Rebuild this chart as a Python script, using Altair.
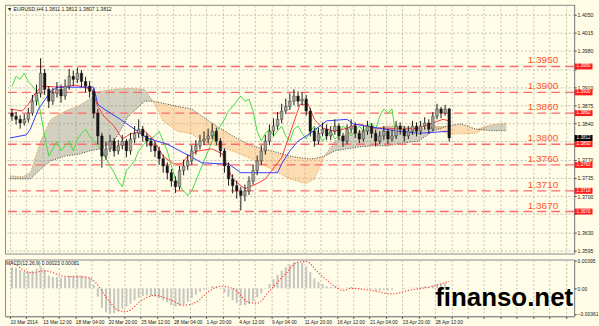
import json
import altair as alt
import pandas as pd

# ---------------- data ----------------
# EURUSD H4 candles (one entry per two H4 bars), prices
first_open = 1.3860
closes = [
    1.3854, 1.3848, 1.3841, 1.3848, 1.3860, 1.3883, 1.3898, 1.3937, 1.3906, 1.3883,
    1.3898, 1.3906, 1.3893, 1.3912, 1.3931, 1.3925, 1.3937, 1.3921, 1.3912, 1.3902,
    1.3860, 1.3816, 1.3777, 1.3791, 1.3806, 1.3787, 1.3797, 1.3806, 1.3787, 1.3810,
    1.3821, 1.3829, 1.3816, 1.3806, 1.3797, 1.3787, 1.3772, 1.3758, 1.3745, 1.3729,
    1.3718, 1.3749, 1.3758, 1.3768, 1.3787, 1.3797, 1.3806, 1.3810, 1.3816, 1.3825,
    1.3806, 1.3787, 1.3758, 1.3733, 1.3720, 1.3710, 1.3701, 1.3710, 1.3729, 1.3749,
    1.3768, 1.3787, 1.3806, 1.3825, 1.3835, 1.3848, 1.3864, 1.3873, 1.3883, 1.3893,
    1.3883, 1.3887, 1.3864, 1.3825, 1.3806, 1.3821, 1.3829, 1.3816, 1.3825, 1.3835,
    1.3816, 1.3806, 1.3829, 1.3835, 1.3821, 1.3810, 1.3825, 1.3835, 1.3821, 1.3806,
    1.3816, 1.3825, 1.3810, 1.3816, 1.3835, 1.3829, 1.3816, 1.3825, 1.3835, 1.3825,
    1.3835, 1.3841, 1.3829, 1.3854, 1.3868, 1.3860, 1.3868, 1.3812]
highs = [
    1.3868, 1.3862, 1.3856, 1.3858, 1.3870, 1.3895, 1.3915, 1.3966, 1.3945, 1.3912,
    1.3908, 1.3920, 1.3915, 1.3925, 1.3945, 1.3942, 1.3948, 1.3943, 1.3930, 1.3922,
    1.3908, 1.3868, 1.3822, 1.3805, 1.3818, 1.3812, 1.3808, 1.3818, 1.3810, 1.3822,
    1.3835, 1.3848, 1.3835, 1.3822, 1.3812, 1.3805, 1.3795, 1.3780, 1.3765, 1.3752,
    1.3738, 1.3758, 1.3770, 1.3780, 1.3798, 1.3808, 1.3818, 1.3825, 1.3830, 1.3840,
    1.3832, 1.3812, 1.3792, 1.3765, 1.3742, 1.3730, 1.3718, 1.3722, 1.3738, 1.3760,
    1.3778, 1.3798, 1.3818, 1.3838, 1.3850, 1.3862, 1.3878, 1.3888, 1.3898, 1.3906,
    1.3902, 1.3900, 1.3895, 1.3870, 1.3832, 1.3832, 1.3842, 1.3838, 1.3835, 1.3848,
    1.3840, 1.3822, 1.3838, 1.3848, 1.3842, 1.3828, 1.3835, 1.3845, 1.3840, 1.3828,
    1.3825, 1.3835, 1.3830, 1.3828, 1.3845, 1.3842, 1.3835, 1.3835, 1.3845, 1.3842,
    1.3845, 1.3852, 1.3848, 1.3862, 1.3878, 1.3872, 1.3876, 1.3870]
lows = [
    1.3845, 1.3838, 1.3830, 1.3836, 1.3842, 1.3855, 1.3875, 1.3890, 1.3895, 1.3870,
    1.3876, 1.3890, 1.3880, 1.3886, 1.3905, 1.3912, 1.3918, 1.3910, 1.3900, 1.3890,
    1.3850, 1.3800, 1.3755, 1.3770, 1.3785, 1.3776, 1.3780, 1.3790, 1.3775, 1.3780,
    1.3802, 1.3812, 1.3805, 1.3795, 1.3785, 1.3775, 1.3760, 1.3745, 1.3732, 1.3718,
    1.3706, 1.3712, 1.3740, 1.3750, 1.3760, 1.3780, 1.3790, 1.3798, 1.3802, 1.3810,
    1.3798, 1.3775, 1.3745, 1.3720, 1.3705, 1.3695, 1.3672, 1.3690, 1.3702, 1.3722,
    1.3740, 1.3760, 1.3780, 1.3798, 1.3815, 1.3828, 1.3840, 1.3858, 1.3866, 1.3875,
    1.3872, 1.3875, 1.3855, 1.3815, 1.3795, 1.3800, 1.3815, 1.3808, 1.3808, 1.3818,
    1.3808, 1.3795, 1.3800, 1.3822, 1.3812, 1.3802, 1.3805, 1.3818, 1.3812, 1.3796,
    1.3800, 1.3808, 1.3800, 1.3805, 1.3810, 1.3818, 1.3805, 1.3810, 1.3818, 1.3815,
    1.3818, 1.3828, 1.3820, 1.3825, 1.3848, 1.3850, 1.3855, 1.3805]

# MACD histogram (same candles)
macd_hist = [
    0.0030, 0.0029, 0.0026, 0.0024, 0.0024, 0.0025, 0.0028, 0.0031, 0.0026, 0.0018,
    0.0016, 0.0016, 0.0015, 0.0016, 0.0018, 0.0018, 0.0019, 0.0018, 0.0017, 0.0015,
    0.0005, -0.0012, -0.0028, -0.0034, -0.0036, -0.0035, -0.0033, -0.0029, -0.0026, -0.0022,
    -0.0017, -0.0013, -0.0011, -0.0010, -0.0011, -0.0012, -0.0014, -0.0017, -0.0020, -0.0024,
    -0.0026, -0.0025, -0.0023, -0.0019, -0.0014, -0.0009, -0.0005, -0.0002, 0.0001, 0.0003,
    0.0002, -0.0001, -0.0006, -0.0012, -0.0017, -0.0021, -0.0024, -0.0024, -0.0022, -0.0018,
    -0.0013, -0.0007, -0.0001, 0.0006, 0.0013, 0.0019, 0.0025, 0.0030, 0.0034, 0.0037,
    0.0037, 0.0036, 0.0031, 0.0023, 0.0014, 0.0009, 0.0006, 0.0003, 0.0002, 0.0002,
    0.0001, -0.0001, 0.0001, 0.0002, 0.0001, -0.0001, 0.0000, 0.0001, -0.0001, -0.0003,
    -0.0003, -0.0002, -0.0003, -0.0002, 0.0000, 0.0000, -0.0001, 0.0000, 0.0001, 0.0001,
    0.0002, 0.0003, 0.0002, 0.0004, 0.0006, 0.0006, 0.0007, 0.0002]

# MACD signal line (bar index, value)
signal_bar = [1, 11, 17, 27, 37, 41, 47, 53, 57, 65, 71, 79, 85, 91, 97, 103, 109, 117, 121,
              127, 135, 141, 145, 151, 159, 163, 167, 177, 187, 195, 207, 215]
signal_val = [0.0038, 0.0022, 0.0025, 0.0017, 0.0016, 0.0011, -0.0012, -0.0031, -0.0033,
              -0.0016, -0.0010, -0.0017, -0.0024, -0.0020, -0.0005, 0.0003, 0.0000, -0.0020,
              -0.0021, -0.0004, 0.0021, 0.0037, 0.0038, 0.0022, 0.0003, -0.0003, 0.0000,
              -0.0003, -0.0008, -0.0003, 0.0003, 0.0010]

# Ichimoku: Tenkan-sen (red)
tenkan_bar = [0, 6, 9, 13, 16, 25, 32, 40, 43, 46, 51, 55, 59, 66, 70, 75, 80, 84, 87, 92, 99,
              104, 109, 115, 121, 125, 133, 137, 142, 146, 149, 153, 159, 165, 171, 178, 185,
              192, 200, 207, 212, 215]
tenkan_val = [1.3868, 1.3864, 1.3877, 1.3902, 1.3912, 1.3910, 1.3914, 1.3906, 1.3873, 1.3854,
              1.3835, 1.3810, 1.3820, 1.3825, 1.3810, 1.3777, 1.3762, 1.3762, 1.3777, 1.3787,
              1.3791, 1.3781, 1.3733, 1.3714, 1.3724, 1.3733, 1.3774, 1.3820, 1.3877, 1.3877,
              1.3848, 1.3831, 1.3825, 1.3831, 1.3839, 1.3831, 1.3831, 1.3829, 1.3831, 1.3841,
              1.3848, 1.3845]
# Kijun-sen (blue)
kijun_bar = [0, 8, 10, 14, 20, 23, 41, 43, 46, 54, 61, 67, 77, 88, 94, 104, 107, 113, 131, 133,
             137, 141, 147, 155, 165, 168, 190, 200, 215]
kijun_val = [1.3812, 1.3818, 1.3829, 1.3868, 1.3902, 1.3910, 1.3910, 1.3877, 1.3868, 1.3848,
             1.3829, 1.3812, 1.3800, 1.3777, 1.3764, 1.3762, 1.3762, 1.3745, 1.3745, 1.3762,
             1.3787, 1.3806, 1.3821, 1.3845, 1.3848, 1.3839, 1.3825, 1.3821, 1.3825]
# Senkou span A / B (cloud)
cloud_bar = [0, 6, 10, 15, 20, 27, 34, 39, 44, 51, 58, 66, 70, 75, 82, 89, 94, 101, 109, 118,
             128, 137, 145, 149, 154, 159, 165, 171, 178, 185, 192, 200, 207, 214, 221, 228,
             235, 243]
span_a = [1.3739, 1.3737, 1.3745, 1.3806, 1.3848, 1.3864, 1.3875, 1.3887, 1.3902, 1.3906,
          1.3908, 1.3906, 1.3883, 1.3845, 1.3825, 1.3820, 1.3806, 1.3797, 1.3787, 1.3772,
          1.3752, 1.3733, 1.3724, 1.3733, 1.3777, 1.3806, 1.3820, 1.3825, 1.3829, 1.3835,
          1.3835, 1.3829, 1.3835, 1.3820, 1.3820, 1.3821, 1.3837, 1.3841]
span_b = [1.3733, 1.3733, 1.3733, 1.3752, 1.3768, 1.3777, 1.3781, 1.3787, 1.3791, 1.3806,
          1.3854, 1.3883, 1.3883, 1.3879, 1.3873, 1.3868, 1.3854, 1.3835, 1.3816, 1.3797,
          1.3787, 1.3777, 1.3772, 1.3772, 1.3777, 1.3787, 1.3791, 1.3795, 1.3797, 1.3797,
          1.3802, 1.3806, 1.3825, 1.3835, 1.3839, 1.3829, 1.3826, 1.3826]

levels = [1.3950, 1.3900, 1.3860, 1.3800, 1.3760, 1.3710, 1.3670]
level_labels = ["1.3950", "1.3900", "1.3860", "1.3800", "1.3760", "1.3710", "1.3670"]
box_labels = ["1.3950", "1.3900", "1.3862", "1.3800", "1.3763", "1.3710", "1.3670"]
last_price = [1.3812]
last_label = ["1.3812"]
price_ticks = [1.4050, 1.4015, 1.3980, 1.3945, 1.3910, 1.3875, 1.3840, 1.3805, 1.3770,
               1.3735, 1.3700, 1.3665, 1.3630, 1.3595]
hidden_ticks = [1.3945, 1.3805, 1.3665]
macd_ticks = [0.00395, 0.0, -0.00361]
x_labels = ["10 Mar 2014", "13 Mar 12:00", "18 Mar 04:00", "20 Mar 20:00", "25 Mar 12:00",
            "28 Mar 04:00", "1 Apr 20:00", "4 Apr 12:00", "9 Apr 04:00", "11 Apr 20:00",
            "16 Apr 12:00", "21 Apr 04:00", "23 Apr 20:00", "28 Apr 12:00"]
title_text = ["\u25BC EURUSD,H4  1.3811 1.3812 1.3807 1.3812"]
macd_text = ["MACD(12,26,9) 0.00023 0.00081"]
watermark = ["finanso.net"]

# ---------------- tables ----------------
opens = [first_open] + closes[:-1]
candle_bar = [2 * k + 1 for k in range(len(closes))]
candles = pd.DataFrame({"bar": candle_bar, "open": opens, "close": closes,
                        "high": highs, "low": lows})
candles["dir"] = ["up" if c >= o else "down" for o, c in zip(opens, closes)]
chikou = pd.DataFrame({"bar": [b - 26 for b in candle_bar if b >= 26],
                       "val": [c for b, c in zip(candle_bar, closes) if b >= 26]})
tenkan = pd.DataFrame({"bar": tenkan_bar, "val": tenkan_val})
kijun = pd.DataFrame({"bar": kijun_bar, "val": kijun_val})
cloud = pd.DataFrame({"bar": cloud_bar, "A": span_a, "B": span_b})
lv = pd.DataFrame({"level": levels, "label": level_labels, "box": box_labels})
lp = pd.DataFrame({"level": last_price, "label": last_label})
hist = pd.DataFrame({"bar": candle_bar, "val": macd_hist})
sig = pd.DataFrame({"bar": signal_bar, "val": signal_val})

# ---------------- styling ----------------
W, H_MAIN, H_MACD = 572, 250, 57
XMAX = 273.7
BG = "#fffce8"
GRID = "#c4c1b2"
FONT = "Liberation Sans"

xs = alt.Scale(domain=[0, XMAX], nice=False, zero=False)
ys = alt.Scale(domain=[1.3589, 1.4069], nice=False, zero=False)
ms = alt.Scale(domain=[-0.00396, 0.00409], nice=False, zero=False)

hide_js = " || ".join(f"abs(datum.value - {h}) < 0.00001" for h in hidden_ticks)
x_axis_main = alt.Axis(values=list(range(0, 274, 8)), labels=False, ticks=False,
                       domain=False, grid=True, gridDash=[2, 2], gridColor=GRID, title=None)
y_axis_main = alt.Axis(orient="right", values=price_ticks, labelFontSize=5.2,
                       labelFont=FONT, tickSize=2, grid=True, gridDash=[2, 2],
                       gridColor=GRID, title=None, domainColor="#8a8a8a", tickColor="#333",
                       labelPadding=1, labelColor="#222",
                       labelExpr=f"({hide_js}) ? '' : format(datum.value, '.4f')")
lab_js = json.dumps(x_labels)
x_axis_macd = alt.Axis(values=list(range(0, 274, 8)), grid=True, gridDash=[2, 2],
                       gridColor=GRID, title=None, labelFontSize=4.9, labelFont=FONT,
                       labelAlign="left", labelPadding=1, tickSize=2, tickColor="#333",
                       domainColor="#8a8a8a", labelColor="#222",
                       labelExpr=f"(datum.value % 16 == 0 && datum.value / 16 < {len(x_labels)}) ? {lab_js}[datum.value / 16] : ''")
y_axis_macd = alt.Axis(orient="right", values=macd_ticks, grid=False, title=None,
                       labelFontSize=5.0, labelFont=FONT, tickSize=2, labelPadding=1,
                       domainColor="#8a8a8a", tickColor="#333", labelColor="#222",
                       labelExpr="datum.value == 0 ? '0.00' : format(datum.value, '.5f')")


def X(f, axis=x_axis_main):
    return alt.X(f, type="quantitative", scale=xs, axis=axis)


def Y(f):
    return alt.Y(f, type="quantitative", scale=ys, axis=y_axis_main)


# ---------------- main panel ----------------
cloud_base = alt.Chart(cloud).transform_calculate(top="max(datum.A, datum.B)")
cloud_dark = cloud_base.mark_area(color="#8a887c", opacity=0.38).encode(
    x=X("bar"), y=Y("top"), y2=alt.Y2("B:Q"))
cloud_orange = cloud_base.mark_area(color="#f7a856", opacity=0.38).encode(
    x=X("bar"), y=Y("top"), y2=alt.Y2("A:Q"))
cloud_a = alt.Chart(cloud).mark_line(color="#e8903a", strokeWidth=1, strokeDash=[1, 1.5]).encode(
    x=X("bar"), y=Y("A"))
cloud_b = alt.Chart(cloud).mark_line(color="#444", strokeWidth=1, strokeDash=[1, 1.5]).encode(
    x=X("bar"), y=Y("B"))

level_rules = alt.Chart(lv).mark_rule(color="#ff6a6a", strokeWidth=1.4, strokeDash=[9, 5]).encode(
    y=Y("level"))
level_text = alt.Chart(lv).mark_text(align="right", baseline="middle", dy=-6, fontSize=10,
                                      font=FONT, color="#ff5526").encode(
    x=alt.value(556), y=Y("level"), text="label:N")

wicks = alt.Chart(candles).mark_rule(color="#1a1a1a", strokeWidth=1).encode(
    x=X("bar"), y=Y("low"), y2=alt.Y2("high:Q"))
bodies = alt.Chart(candles).mark_bar(size=2.6, stroke="#1a1a1a", strokeWidth=0.4).encode(
    x=X("bar"), y=Y("open"), y2=alt.Y2("close:Q"),
    color=alt.Color("dir:N", scale=alt.Scale(domain=["up", "down"],
                                             range=["#a3a39a", "#161616"]), legend=None))

chikou_line = alt.Chart(chikou).mark_line(color="#44dd44", strokeWidth=1).encode(
    x=X("bar"), y=Y("val"))
tenkan_line = alt.Chart(tenkan).mark_line(color="#ff3a3a", strokeWidth=1).encode(
    x=X("bar"), y=Y("val"))
kijun_line = alt.Chart(kijun).mark_line(color="#3a3aff", strokeWidth=1).encode(
    x=X("bar"), y=Y("val"))

boxes = alt.Chart(lv).mark_tick(orient="horizontal", thickness=6, size=18, color="#ff1c1c",
                                opacity=1).encode(x=alt.value(581.5), y=Y("level"))
box_text = alt.Chart(lv).mark_text(color="white", fontSize=4.6, font=FONT, align="center",
                                   baseline="middle").encode(
    x=alt.value(581.5), y=Y("level"), text="box:N")
last_box = alt.Chart(lp).mark_tick(orient="horizontal", thickness=6, size=18, color="#000",
                                   opacity=1).encode(x=alt.value(581.5), y=Y("level"))
last_text = alt.Chart(lp).mark_text(color="white", fontSize=4.6, font=FONT, align="center",
                                    baseline="middle").encode(
    x=alt.value(581.5), y=Y("level"), text="label:N")

title_mark = alt.Chart(pd.DataFrame({"t": title_text})).mark_text(
    align="left", baseline="top", fontSize=5.2, font=FONT, color="#222").encode(
    x=alt.value(2), y=alt.value(2), text="t:N")

main = alt.layer(cloud_dark, cloud_orange, cloud_a, cloud_b, level_rules, chikou_line,
                 tenkan_line, kijun_line, wicks, bodies, level_text, boxes, box_text,
                 last_box, last_text, title_mark).properties(width=W, height=H_MAIN)

# ---------------- MACD panel ----------------
def XM(f):
    return X(f, axis=x_axis_macd)


hist_bars = alt.Chart(hist).mark_bar(size=2, color="#c6c6c0").encode(
    x=XM("bar"), y=alt.Y("val:Q", scale=ms, axis=y_axis_macd))
sig_line = alt.Chart(sig).mark_line(color="#ff3030", strokeWidth=1.1, strokeDash=[1.2, 1.8],
                                    interpolate="monotone").encode(
    x=XM("bar"), y=alt.Y("val:Q", scale=ms, axis=y_axis_macd))
macd_label = alt.Chart(pd.DataFrame({"t": macd_text})).mark_text(
    align="left", baseline="top", fontSize=5.0, font=FONT, color="#222").encode(
    x=alt.value(1), y=alt.value(2), text="t:N")
wm = alt.Chart(pd.DataFrame({"t": watermark})).mark_text(
    align="right", baseline="alphabetic", fontSize=26, font=FONT, fontWeight="bold",
    color="#000").encode(x=alt.value(571), y=alt.value(47), text="t:N")

macd = alt.layer(hist_bars, sig_line, macd_label, wm).properties(width=W, height=H_MACD)

chart = alt.vconcat(main, macd, spacing=3).properties(
    background=BG, padding={"left": 3, "top": 3, "right": 0, "bottom": 0}
).configure_view(stroke="#8a8a8a", strokeWidth=1).configure_axis(labelOverlap=False)

chart.save("out.html", embed_options={"renderer": "svg", "actions": False})
